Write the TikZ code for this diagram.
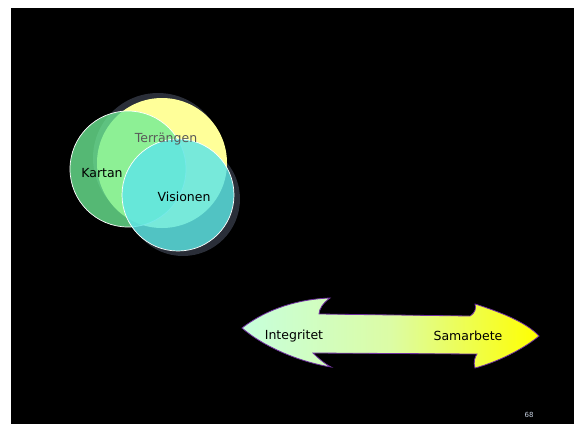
\documentclass[tikz,border=0pt]{standalone}
\usepackage{fontspec}
\setmainfont{DejaVu Sans}
\usepackage{xcolor}

\definecolor{kartancol}{RGB}{109,236,149}
\definecolor{terrcol}{RGB}{255,255,153}
\definecolor{visioncol}{RGB}{96,230,230}
\definecolor{shadowcol}{RGB}{42,46,56}
\definecolor{arrowline}{RGB}{112,48,160}
\definecolor{mintcol}{RGB}{198,255,220}
\definecolor{midcol}{RGB}{220,252,165}
\definecolor{pagecol}{RGB}{200,210,226}

\tikzset{
    venn/.style = {circle, inner sep=0pt, draw=white, line width=0.7pt},
    vennlabel/.style = {anchor=base, font=\fontsize{12.5}{14}\selectfont},
}

\begin{document}
\begin{tikzpicture}[x=1pt, y=-1pt]
    \useasboundingbox (0,0) rectangle (576,424);
    \fill[white] (0,0) rectangle (576,424);
    \fill[black] (11,8) rectangle (574,424);

    % shadows
    \fill[shadowcol] (158,158) circle (65);
    \fill[shadowcol, even odd rule] (183,199) circle (57) (178,195) circle (56);

    \node[circle, inner sep=0pt, fill=terrcol, minimum size=130pt] (terrangen) at (162,163) {};
    \node[venn, fill=kartancol, fill opacity=0.78, minimum size=116pt] (kartan) at (128,169) {};
    \node[venn, fill=visioncol, fill opacity=0.85, minimum size=112pt] (visionen) at (178,195) {};

    \node[vennlabel, text=black!65] (terrtext) at (166,142) {Terrängen};
    \node[vennlabel] (kartantext) at (102,177) {Kartan};
    \node[vennlabel] (visiontext) at (184,201) {Visionen};

    % double arrow
    \path[draw=arrowline, line width=0.8pt, left color=mintcol, right color=yellow, middle color=midcol]
        (242,328) .. controls (268,308) and (300,299) .. (330,298)
        .. controls (323,303) and (319,309) .. (319,314)
        -- (470,316)
        .. controls (476,312) and (476,308) .. (475,304)
        .. controls (500,312) and (526,322) .. (539,336)
        .. controls (522,350) and (497,362) .. (475,368)
        .. controls (473,362) and (475,357) .. (477,354)
        -- (313,353)
        .. controls (318,358) and (325,364) .. (331,367)
        .. controls (300,362) and (264,347) .. cycle;

    \node[vennlabel] (integritet) at (294,339) {Integritet};
    \node[vennlabel] (samarbete) at (468,340) {Samarbete};

    \node[anchor=base, text=pagecol, font=\fontsize{7}{8}\selectfont] (pagenum) at (529,417) {68};
\end{tikzpicture}
\end{document}
